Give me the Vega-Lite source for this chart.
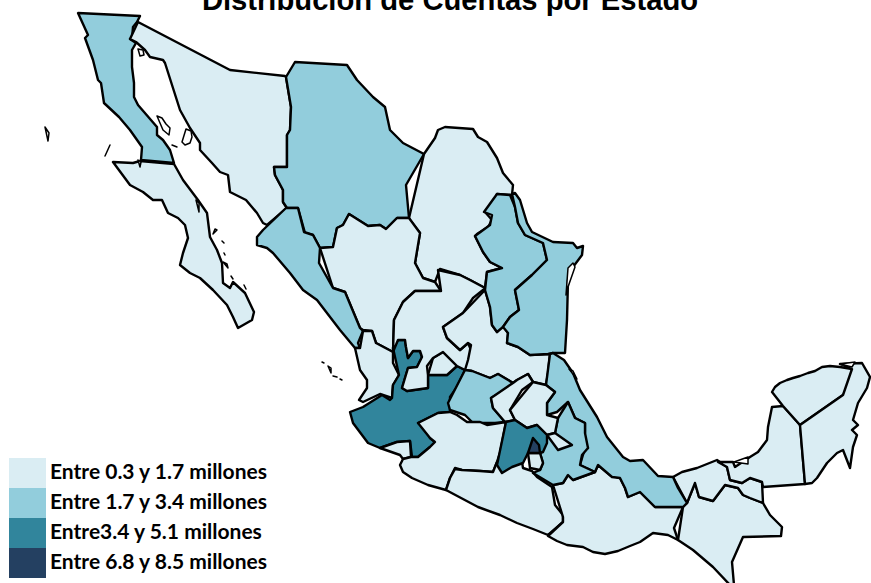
{"$schema":"https://vega.github.io/schema/vega-lite/v6.json","width":871,"height":583,"padding":0,"autosize":{"type":"none"},"background":"white",
"title":{"text":"Distribución de Cuentas por Estado","font":"Liberation Sans","fontSize":29.2,"fontWeight":"bold","color":"black","anchor":"middle","offset":-16,"dx":14.5},
"projection":{"type":"identity","scale":10,"translate":[0,0]},
"config":{"view":{"stroke":null}},
"layer":[
{"data":{"values":[
{"type":"Feature","properties":{"rango":"Entre 1.7 y 3.4 millones","estado":"Baja California"},"geometry":{"type":"Polygon","coordinates":[[[7.8,1.3],[14,1.6],[13.7,2.2],[13.3,2.7],[13.2,3.8],[13,3.9],[13.6,4.3],[13.2,5],[13.2,6.7],[13.4,8.3],[13.4,9.7],[13.8,10.5],[15.7,12.7],[15.7,13.5],[16.3,14],[17,15],[17.4,16.3],[14.1,16],[14.2,14.7],[13,13],[11.9,11.7],[10.4,10.3],[10.1,8.3],[9.8,8],[9.3,6],[8.5,3.8],[8.8,3.5],[8.5,3.2]]]}},
{"type":"Feature","properties":{"rango":"Entre 0.3 y 1.7 millones","estado":"Baja California Sur"},"geometry":{"type":"Polygon","coordinates":[[[11.3,16.2],[13.3,16.3],[14,16.1],[17.4,16.4],[18.3,18],[19.2,19.2],[19.8,20],[20.7,21.3],[21,23.7],[21.7,25],[22.2,26.3],[22.3,28.3],[23,28.8],[23.3,28.2],[24.5,29.3],[25.4,31.2],[25.2,32],[23.8,32.8],[23.3,31.7],[22.7,30.5],[21.3,29],[20,27.8],[19,27.3],[18,26.5],[18.3,25.3],[18.8,23.8],[18.5,22.5],[17.8,21.8],[16.8,21.3],[16.2,20],[15.3,20],[14.3,19.2],[13,18.5],[12.5,17.5]]]}},
{"type":"Feature","properties":{"rango":"Entre 0.3 y 1.7 millones","estado":"Sonora"},"geometry":{"type":"Polygon","coordinates":[[[13.8,2.2],[23,7],[28.5,7.6],[28.6,7.7],[29.1,10.7],[29,13],[28.7,13.5],[28.7,16.7],[27.4,16.7],[27.5,17.5],[28.3,19],[28.3,20.2],[28.7,20.8],[26.7,22.5],[26.3,22.3],[25.7,21.3],[24.6,20],[23,19.2],[22.8,17.5],[22,17.2],[21.2,16.3],[20,15],[20,14.3],[19,12.8],[18,11],[16.5,6.3],[16.3,6],[15,5.7],[14.5,5],[13.6,4.2],[13,3.9],[13.3,2.7]]]}},
{"type":"Feature","properties":{"rango":"Entre 1.7 y 3.4 millones","estado":"Chihuahua"},"geometry":{"type":"Polygon","coordinates":[[[29.5,6.2],[34.7,6.5],[35.7,8],[37.3,9.7],[38.5,10.7],[39,13],[40.3,14.3],[42.4,15.4],[40.6,18.5],[40.9,21.8],[39.7,21.8],[38.6,22.9],[38,22.5],[36.8,22.6],[34.9,21.4],[34.3,22.5],[33.7,22.8],[33.3,24.7],[32,24.8],[31.3,23.5],[30.5,23.3],[29.8,20.8],[28.7,20.8],[28.3,20.2],[28.3,19],[27.5,17.5],[27.4,16.7],[28.7,16.7],[28.7,13.5],[29,13],[29.1,10.7],[28.6,7.7],[29.4,7.7]]]}},
{"type":"Feature","properties":{"rango":"Entre 0.3 y 1.7 millones","estado":"Coahuila"},"geometry":{"type":"Polygon","coordinates":[[[42.4,15.4],[43.5,13.8],[43.8,13],[44.5,12.7],[47.3,12.9],[47.8,13.7],[48.7,14.2],[49.7,15.8],[50.3,17.3],[51.3,18.5],[51.2,19.5],[49.7,19.4],[49.2,20.7],[48.5,21.2],[49.2,22],[48.8,22.7],[47.7,23.4],[47.5,23.6],[48.3,25.2],[49,26.2],[50.2,26.8],[48.7,27.2],[48.5,28.8],[47,28],[46,27.5],[44,26.9],[43.5,28.2],[42.3,27.8],[41.5,26.3],[42,23.3],[41,22],[40.9,21.8],[40.6,18.5]]]}},
{"type":"Feature","properties":{"rango":"Entre 0.3 y 1.7 millones","estado":"Durango"},"geometry":{"type":"Polygon","coordinates":[[[32,24.8],[33.3,24.7],[33.7,22.8],[34.3,22.5],[34.9,21.4],[36.8,22.6],[38,22.5],[38.6,22.9],[39.7,21.8],[40.9,21.8],[42,23.3],[41.5,26.3],[42.3,27.8],[43.5,28.2],[44.1,29.1],[41.5,29.1],[40.3,30.2],[39.4,32],[39.3,35.2],[37.6,34.3],[37.2,33.1],[36.3,33],[36,32.8],[34.5,29.2],[33.3,28.8],[31.9,26.3]]]}},
{"type":"Feature","properties":{"rango":"Entre 1.7 y 3.4 millones","estado":"Sinaloa"},"geometry":{"type":"Polygon","coordinates":[[[28.6,20.8],[29.8,20.8],[30.4,23.2],[31.3,23.5],[32,24.8],[31.9,26.3],[33.3,28.8],[34.5,29.2],[36,32.8],[36.3,33.1],[35.8,34.3],[36,34.8],[35.5,34.8],[34,33],[31.7,30],[30.3,29],[29,27.3],[27.3,25.3],[26.7,24.8],[25.7,24.5],[25.7,23.7],[26.3,23],[26.7,22.5]]]}},
{"type":"Feature","properties":{"rango":"Entre 0.3 y 1.7 millones","estado":"Nayarit"},"geometry":{"type":"Polygon","coordinates":[[[36.3,33.1],[37.2,33.1],[37.6,34.3],[39.3,35.2],[39.3,36.3],[39.9,37.5],[39.3,38.5],[39.2,39.8],[38,39.4],[36.3,40.2],[35.9,40],[36.7,38.8],[36.7,38],[36,37],[35.5,34.8],[36,34.8],[35.8,34.3]]]}},
{"type":"Feature","properties":{"rango":"Entre3.4 y 5.1 millones","estado":"Jalisco"},"geometry":{"type":"Polygon","coordinates":[[[39.3,34.8],[39.8,34],[40.5,34],[40.6,34.7],[40.8,35.8],[41.3,35.1],[42,35.1],[42.2,35.7],[41.7,36.7],[40.8,36.8],[40.2,38.8],[40.7,39.1],[42.8,38.8],[42.8,37.5],[44.7,37.5],[45.7,36.6],[46.5,37],[45.7,38.7],[45,39.7],[45,41.2],[43.8,41.3],[41.8,42.3],[42.8,42.8],[43,43.8],[43.5,44.2],[43,44.7],[41.8,45.7],[41.2,45.7],[41,44.1],[39.7,44.2],[38,44.8],[36.8,44.3],[35.3,42.3],[35,41.2],[36.3,40.7],[38.2,39.5],[39,40],[39.2,39.8],[39.3,38.5],[39.9,37.5],[39.3,36.3]]]}},
{"type":"Feature","properties":{"rango":"Entre 0.3 y 1.7 millones","estado":"Colima"},"geometry":{"type":"Polygon","coordinates":[[[38,44.8],[39.7,44.2],[41,44.1],[41.1,45.7],[40.3,45.9],[40,45.5],[39,45]]]}},
{"type":"Feature","properties":{"rango":"Entre 0.3 y 1.7 millones","estado":"Aguascalientes"},"geometry":{"type":"Polygon","coordinates":[[[42.8,37.5],[44.7,37.5],[45.7,36.6],[44.8,35.7],[44.3,35.2],[43.3,35.8],[42.7,36.6]]]}},
{"type":"Feature","properties":{"rango":"Entre 0.3 y 1.7 millones","estado":"Zacatecas"},"geometry":{"type":"Polygon","coordinates":[[[39.3,35.2],[39.4,32],[40.3,30.2],[41.5,29.1],[44.1,29.1],[43.8,27],[46,27.5],[47,28],[48.5,28.8],[48.3,29],[47.3,29.8],[46.3,31.3],[44.3,32.7],[44.7,33.8],[46,35],[46.8,34.3],[47.1,35],[46.8,36.7],[46.5,37],[45.7,36.6],[44.8,35.7],[44.3,35.2],[43.3,35.8],[42.7,36.6],[42.8,37.5],[42.8,38.8],[40.7,39.1],[40.2,38.8],[40.8,36.8],[41.7,36.7],[42.2,35.7],[42,35.1],[41.3,35.1],[40.8,35.8],[40.6,34.7],[40.5,34],[39.8,34],[39.3,34.8]]]}},
{"type":"Feature","properties":{"rango":"Entre 0.3 y 1.7 millones","estado":"San Luis Potosí"},"geometry":{"type":"Polygon","coordinates":[[[48.5,29],[49,30.7],[49.2,32.5],[49.7,33.2],[50.3,32.5],[50.8,33.3],[50.7,34.3],[51.8,34.7],[53,35.5],[55,35.4],[54.8,37.3],[54.6,38.5],[53.3,38.2],[52.8,37.4],[51.7,38],[51.3,38.3],[49.8,37.4],[49,37.8],[47.2,37.1],[46.5,37],[46.8,36],[47.1,34.5],[46.8,34.3],[46,35],[44.7,33.8],[44.3,32.7],[46.3,31.3],[47.3,29.8]]]}},
{"type":"Feature","properties":{"rango":"Entre 1.7 y 3.4 millones","estado":"Guanajuato"},"geometry":{"type":"Polygon","coordinates":[[[46.5,37],[47.2,37.1],[49,37.8],[49.8,37.4],[51.3,38.3],[50.5,39],[49.1,39.8],[49.3,40.8],[50.5,42.2],[49.5,42.3],[47.3,42.3],[46.5,41.5],[45,41],[44.8,40.3],[45.7,38.7]]]}},
{"type":"Feature","properties":{"rango":"Entre 0.3 y 1.7 millones","estado":"Querétaro"},"geometry":{"type":"Polygon","coordinates":[[[51.3,38.3],[51.7,38],[52.8,37.4],[53.3,38.2],[52.2,39],[51,41],[51.5,42],[50.5,42.2],[49.3,40.8],[49.1,39.8],[50.5,39]]]}},
{"type":"Feature","properties":{"rango":"Entre 0.3 y 1.7 millones","estado":"Michoacán"},"geometry":{"type":"Polygon","coordinates":[[[41.8,42.3],[43.8,41.3],[45,41.2],[45.7,41.5],[46.7,42.2],[48,42.2],[48.7,42.5],[50.6,42.2],[50,45.3],[49.7,46.2],[49.3,47.2],[48,47.1],[46.2,47],[45.5,46.8],[45,47.8],[44.6,49],[42.8,48.5],[41.2,47.8],[40.3,47.2],[40,46.5],[40.3,45.9],[41.1,45.7],[41.8,45.7],[43,44.7],[43.5,44.2],[43,43.8],[42.8,42.8]]]}},
{"type":"Feature","properties":{"rango":"Entre 0.3 y 1.7 millones","estado":"Guerrero"},"geometry":{"type":"Polygon","coordinates":[[[44.6,49],[45,47.8],[45.5,46.9],[46.2,47],[48,47.1],[49.3,47.2],[49.7,46.2],[50.2,47.2],[51,46.7],[52.2,46.2],[52.3,46.8],[53.2,47.1],[53.7,47.7],[55.2,48.7],[55.5,50.5],[56.3,51.5],[56.3,52.2],[54.8,53.5],[53.3,52.9],[51.7,52.3],[50,51.5],[47.8,50.7],[46.5,49.7]]]}},
{"type":"Feature","properties":{"rango":"Entre 0.3 y 1.7 millones","estado":"Oaxaca"},"geometry":{"type":"Polygon","coordinates":[[[55.3,48.5],[56.3,48.3],[56.8,47.5],[57.3,48],[59.5,47.2],[59.8,46.5],[61,47.5],[62,47.8],[62.5,48.8],[62.8,49.7],[64,49.2],[64.3,49.5],[65.5,50.7],[68.3,50.7],[67.4,52.8],[67.8,54],[66.8,53.5],[65.3,53.3],[64,54.2],[63,54.6],[61.8,55.1],[60.5,55.4],[59.3,55.2],[58.3,54.7],[56.7,54.5],[55.7,54.1],[54.8,53.6],[56.3,52.2],[56.3,51.7],[55.5,50.5]]]}},
{"type":"Feature","properties":{"rango":"Entre 0.3 y 1.7 millones","estado":"Chiapas"},"geometry":{"type":"Polygon","coordinates":[[[68.3,50.7],[68.7,50.3],[69.5,48.3],[69.9,49.7],[71.3,50.1],[72.5,48.5],[73.8,48.8],[74.3,49.5],[75,49.8],[76.3,50.3],[77,51.5],[78.2,52.7],[78.1,53.6],[74.3,53.7],[73.2,56.2],[73.4,58.5],[73,58.5],[71.3,56.7],[69.3,55],[67.8,54],[67.4,52.8]]]}},
{"type":"Feature","properties":{"rango":"Entre 0.3 y 1.7 millones","estado":"Tabasco"},"geometry":{"type":"Polygon","coordinates":[[[67.3,47.7],[68.2,47.2],[69.7,46.8],[71.7,46],[72.7,46.7],[73,48],[74.2,48.3],[75,47.8],[76.2,48.2],[76.3,50.3],[75,49.8],[74.3,49.5],[73.8,48.8],[72.5,48.5],[71.3,50.1],[69.9,49.7],[69.5,48.3],[68.7,50.3],[67.8,48.8]]]}},
{"type":"Feature","properties":{"rango":"Entre 0.3 y 1.7 millones","estado":"Campeche"},"geometry":{"type":"Polygon","coordinates":[[[77.2,40.7],[78.3,40.6],[80,42.5],[80.5,48.4],[76.3,48.7],[76.2,48.2],[75,47.8],[74.2,48.3],[73,48],[72.7,46.7],[71.8,46.2],[73.3,46.2],[73.5,46.7],[75,45.7],[75.8,45.2],[76.7,44],[76.8,42.7],[77.2,41.7]]]}},
{"type":"Feature","properties":{"rango":"Entre 0.3 y 1.7 millones","estado":"Yucatán"},"geometry":{"type":"Polygon","coordinates":[[[77.2,39.2],[77.5,38.7],[78,38.3],[78.7,38],[79.3,37.8],[80,37.6],[80.8,37.3],[81.5,37.1],[82.2,36.7],[83,36.6],[84,36.7],[85.2,36.9],[85,38.7],[84.3,39.5],[80,42.5],[78.3,40.6],[77.2,40.7]]]}},
{"type":"Feature","properties":{"rango":"Entre 0.3 y 1.7 millones","estado":"Quintana Roo"},"geometry":{"type":"Polygon","coordinates":[[[85.2,36.9],[84,36.4],[86.2,36.3],[87,37.7],[86.7,38.8],[85.8,40.3],[85.3,42],[85.8,42.5],[85.2,43],[85.7,43.5],[85.3,44.7],[85,46.8],[84.3,45],[83.7,45.3],[82.7,46.3],[81.7,47.8],[81.2,48.3],[80.5,48.4],[80,42.5],[84.3,39.5],[85,38.7]]]}},
{"type":"Feature","properties":{"rango":"Entre 1.7 y 3.4 millones","estado":"Nuevo León"},"geometry":{"type":"Polygon","coordinates":[[[49.7,19.4],[51,19.5],[51.5,20.7],[51.8,22.3],[52.5,23.5],[54.3,24.3],[54.7,26],[53.2,27.5],[51.5,29],[51.9,31],[51,31.7],[50.3,32.7],[49.7,33.2],[49.2,32.5],[49,30.7],[48.5,29],[48.7,27.2],[50.2,26.8],[49,26.2],[48.3,25.2],[47.5,23.6],[49,22.5],[49.2,21.5],[48.4,21.2],[49.3,20]]]}},
{"type":"Feature","properties":{"rango":"Entre 1.7 y 3.4 millones","estado":"Tamaulipas"},"geometry":{"type":"Polygon","coordinates":[[[51.2,19.4],[51.5,19.3],[52,20],[52.7,22.3],[53.2,23.2],[55.3,24.2],[57.3,24.3],[57.7,24.8],[58.3,24.6],[58.2,25.5],[57.3,26.7],[56.8,28],[56.7,32],[56.5,35.3],[55.3,35.3],[54.8,35.4],[53,35.5],[51.8,34.7],[50.7,34.3],[50.8,33.3],[50.3,32.7],[51,31.7],[51.9,31],[51.5,29],[53.2,27.5],[54.7,26],[54.3,24.3],[52.5,23.5],[51.8,22.3],[51.5,20.7],[51,19.5]]]}},
{"type":"Feature","properties":{"rango":"Entre 1.7 y 3.4 millones","estado":"Veracruz"},"geometry":{"type":"Polygon","coordinates":[[[55,35.4],[55.3,35.3],[56.4,36],[57.3,37.3],[58,39],[59.7,41.7],[60.7,43.7],[62.3,45.7],[63,46.1],[64.3,46],[65.8,47.6],[67.3,47.7],[67.8,48.8],[68.7,50.3],[68.3,50.7],[65.5,50.7],[64.3,49.5],[64,49.2],[62.8,49.7],[62.5,48.8],[62,47.8],[61.2,47.7],[59.8,46.5],[59.5,47.2],[58,46.5],[58.5,44.8],[58.8,44.8],[58.2,44.3],[58.5,43.3],[58.5,42.3],[57.5,41.8],[56.8,40.2],[55.7,41.2],[54.7,41.5],[54.7,40.3],[55.5,39.2],[54.6,38.5],[54.8,37.3]]]}},
{"type":"Feature","properties":{"rango":"Entre 1.7 y 3.4 millones","estado":"Puebla"},"geometry":{"type":"Polygon","coordinates":[[[56.8,40.2],[57.5,41.8],[58.5,42.3],[58.5,43.3],[58.8,44.8],[58.2,45.5],[58,46.5],[59.5,47.2],[57.3,48],[56.8,47.5],[56.3,48.3],[55.3,48.5],[53.3,47.3],[54,47],[54.3,46.3],[54,45.3],[54.6,44.3],[54.7,43.5],[55.5,43.3],[55.8,41.8],[55.7,41.2]]]}},
{"type":"Feature","properties":{"rango":"Entre 0.3 y 1.7 millones","estado":"Hidalgo"},"geometry":{"type":"Polygon","coordinates":[[[53.3,38.2],[54.6,38.5],[55.5,39.2],[54.7,40.3],[54.7,41.5],[55.8,41.8],[55.5,43.3],[54.7,43.5],[53.7,42.5],[52.7,42.8],[51.5,42],[51,41],[52.2,39]]]}},
{"type":"Feature","properties":{"rango":"Entre 0.3 y 1.7 millones","estado":"Tlaxcala"},"geometry":{"type":"Polygon","coordinates":[[[54.7,43.5],[55.5,43.3],[57.2,44.5],[55.8,45],[54.7,44.3]]]}},
{"type":"Feature","properties":{"rango":"Entre3.4 y 5.1 millones","estado":"México"},"geometry":{"type":"Polygon","coordinates":[[[50.6,42.2],[51.5,42],[52.7,42.8],[53.7,42.5],[54.7,43.5],[54.7,44.3],[54.3,45.2],[54,45.3],[52.8,45.3],[52.3,46.3],[51.2,46.7],[50.2,47.3],[49.7,46.5],[50.3,44.3]]]}},
{"type":"Feature","properties":{"rango":"Entre 0.3 y 1.7 millones","estado":"Morelos"},"geometry":{"type":"Polygon","coordinates":[[[52.8,45.3],[54,45.3],[54.3,46.3],[54,47],[53,46.8],[52.3,46.3]]]}},
{"type":"Feature","properties":{"rango":"Entre 6.8 y 8.5 millones","estado":"Ciudad de México"},"geometry":{"type":"Polygon","coordinates":[[[53.3,43.8],[53.9,44.5],[54,45.3],[52.8,45.3],[52.8,44.5]]]}}
]},
"mark":{"type":"geoshape","stroke":"black","strokeWidth":2.4,"strokeJoin":"round"},
"encoding":{"color":{"field":"properties.rango","type":"nominal","scale":{"domain":["Entre 0.3 y 1.7 millones","Entre 1.7 y 3.4 millones","Entre3.4 y 5.1 millones","Entre 6.8 y 8.5 millones"],"range":["#DAEDF3","#92CDDC","#31859C","#244061"]},
"legend":{"title":null,"orient":"none","legendX":12.5,"legendY":458,"padding":0,"rowPadding":0,"symbolType":"M-1.233,-1H1.233V1H-1.233Z","symbolSize":900,"symbolStrokeWidth":0,"symbolOpacity":1,"labelOffset":7.5,"labelFont":"Lato","labelFontWeight":"bold","labelFontSize":21,"labelColor":"black","labelLimit":300}}}},
{"data":{"values":[
{"type":"Feature","properties":{"nombre":"Guadalupe"},"geometry":{"type":"Polygon","coordinates":[[[4.5,12.7],[4.9,13.3],[4.8,14.1],[4.5,13.7]]]}},
{"type":"Feature","properties":{"nombre":"Cedros"},"geometry":{"type":"Polygon","coordinates":[[[11,14.5],[10.5,15.6],[11.1,15.7]]]}},
{"type":"Feature","properties":{"nombre":"Ángel de la Guarda"},"geometry":{"type":"Polygon","coordinates":[[[15.7,11.6],[16.2,11.8],[16.6,12.4],[17,12.8],[16.9,13.5],[16.3,13],[15.8,12.4]]]}},
{"type":"Feature","properties":{"nombre":"Tiburón"},"geometry":{"type":"Polygon","coordinates":[[[18.6,12.9],[19.1,13.1],[19.2,13.7],[19,14.3],[18.5,14.5],[18.2,14.2],[18.3,13.5]]]}},
{"type":"Feature","properties":{"nombre":"San Lorenzo"},"geometry":{"type":"Polygon","coordinates":[[[17.2,14.5],[17.7,14.7],[17.4,14.8]]]}},
{"type":"Feature","properties":{"nombre":"Smith"},"geometry":{"type":"Polygon","coordinates":[[[13.8,4.9],[14.3,5],[14.4,5.5],[14,5.6],[13.7,5.3]]]}},
{"type":"Feature","properties":{"nombre":"Cedros sur"},"geometry":{"type":"Polygon","coordinates":[[[13.8,16],[14.1,16.2],[14,16.7],[13.6,16.5]]]}},
{"type":"Feature","properties":{"nombre":"Carmen"},"geometry":{"type":"Polygon","coordinates":[[[21.5,22.9],[21.7,23],[21.3,23.4],[21.2,23.2]]]}},
{"type":"Feature","properties":{"nombre":"Espíritu Santo"},"geometry":{"type":"Polygon","coordinates":[[[19.6,20],[19.9,20.3],[19.9,21.2],[19.6,21]]]}},
{"type":"Feature","properties":{"nombre":"San José"},"geometry":{"type":"Polygon","coordinates":[[[22.3,26.2],[22.7,26.4],[22.8,26.8],[22.4,26.6]]]}},
{"type":"Feature","properties":{"nombre":"Cerralvo"},"geometry":{"type":"Polygon","coordinates":[[[23.1,27.6],[23.3,27.9],[23.1,28]]]}},
{"type":"Feature","properties":{"nombre":"Cerralvo sur"},"geometry":{"type":"Polygon","coordinates":[[[24.4,28.5],[24.6,28.9],[24.4,29]]]}},
{"type":"Feature","properties":{"nombre":"Pichilingue"},"geometry":{"type":"Polygon","coordinates":[[[22.2,24.1],[22.4,24.3],[22.2,24.4]]]}},
{"type":"Feature","properties":{"nombre":"Santa Catalina"},"geometry":{"type":"Polygon","coordinates":[[[22.4,25.3],[22.5,25.5],[22.3,25.5]]]}},
{"type":"Feature","properties":{"nombre":"María Madre"},"geometry":{"type":"Polygon","coordinates":[[[32.8,36.6],[33.1,36.8],[33.1,37.3],[32.8,37.1]]]}},
{"type":"Feature","properties":{"nombre":"María Magdalena"},"geometry":{"type":"Polygon","coordinates":[[[33.3,37.6],[33.7,37.7],[33.6,37.9]]]}},
{"type":"Feature","properties":{"nombre":"San Juanito"},"geometry":{"type":"Polygon","coordinates":[[[32.2,36.2],[32.4,36.3],[32.3,36.5]]]}},
{"type":"Feature","properties":{"nombre":"María Cleofas"},"geometry":{"type":"Polygon","coordinates":[[[34,37.9],[34.2,38],[34.1,38.2]]]}},
{"type":"Feature","properties":{"nombre":"Laguna Madre"},"geometry":{"type":"Polygon","coordinates":[[[56.8,26.8],[57.3,26.3],[57.5,26.7],[56.8,28.7],[56.6,29.5],[56.6,28.7]]]}},
{"type":"Feature","properties":{"nombre":"Laguna de Tamiahua"},"geometry":{"type":"Polygon","coordinates":[[[56.9,36.9],[57.3,37.1],[57.7,37.9],[57.4,38]]]}},
{"type":"Feature","properties":{"nombre":"Carmen Campeche"},"geometry":{"type":"Polygon","coordinates":[[[73.4,46.2],[74.8,45.7],[74.8,46.4],[73.5,46.6]]]}},
{"type":"Feature","properties":{"nombre":"Holbox"},"geometry":{"type":"Polygon","coordinates":[[[84,36.4],[85.5,36.2],[85.2,36.7],[84.3,36.6]]]}}
]},
"mark":{"type":"geoshape","fill":"white","stroke":"black","strokeWidth":1.5,"strokeJoin":"round"},
"encoding":{}}
]}
